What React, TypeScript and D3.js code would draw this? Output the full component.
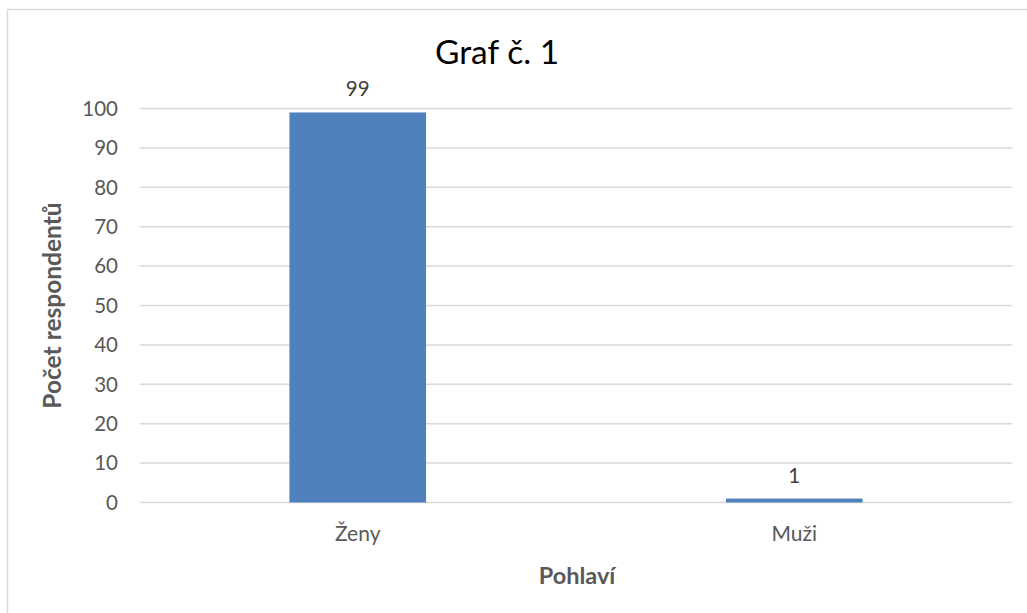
import React from "react";
import * as d3 from "d3";

const categories = ["Ženy", "Muži"];
const values = [99, 1];
const yTicks = [0, 10, 20, 30, 40, 50, 60, 70, 80, 90, 100];
const title = "Graf č. 1";
const xTitle = "Pohlaví";
const yTitle = "Počet respondentů";

const W = 1027;
const H = 613;
const FONT = "Lato, 'Open Sans', sans-serif";

export default function App() {
  const left = 139.5;
  const right = 1012.5;
  const top = 108.5;
  const bottom = 502.5;
  const x = d3.scaleBand<string>().domain(categories).range([left, right]).paddingInner(0.687).paddingOuter(0.3435);
  const y = d3.scaleLinear().domain([0, 100]).range([bottom, top]);
  const bw = x.bandwidth();
  return (
    <svg width={W} height={H} style={{ position: "absolute", left: 0, top: 0, background: "#fff" }}>
      <rect x={7.5} y={9.5} width={1030} height={620} fill="#fff" stroke="#d9d9d9" strokeWidth={1.5} />
      <text x={497} y={64} textAnchor="middle" fontFamily={FONT} fontSize={33.5} fill="#000">{title}</text>
      {yTicks.map((t) => (
        <g key={t}>
          <line x1={left} x2={right} y1={y(t)} y2={y(t)} stroke="#d9d9d9" strokeWidth={1.5} />
          <text x={118} y={y(t)} dy="0.36em" textAnchor="end" fontFamily={FONT} fontSize={20.5} fill="#595959">{t}</text>
        </g>
      ))}
      {categories.map((c, i) => (
        <g key={c}>
          <rect x={x(c)} y={y(values[i])} width={bw} height={bottom - y(values[i])} fill="#4f81bd" />
          <text x={(x(c) as number) + bw / 2} y={y(values[i]) - 16} textAnchor="middle" fontFamily={FONT} fontSize={20.5} fill="#404040">{values[i]}</text>
          <text x={(x(c) as number) + bw / 2} y={541} textAnchor="middle" fontFamily={FONT} fontSize={21} fill="#595959">{c}</text>
        </g>
      ))}
      <text x={577} y={584} textAnchor="middle" fontFamily={FONT} fontSize={23.5} fontWeight="bold" fill="#595959">{xTitle}</text>
      <text transform={`translate(61,${(top + bottom) / 2}) rotate(-90)`} textAnchor="middle" fontFamily={FONT} fontSize={24.5} fontWeight="bold" fill="#595959">{yTitle}</text>
    </svg>
  );
}
